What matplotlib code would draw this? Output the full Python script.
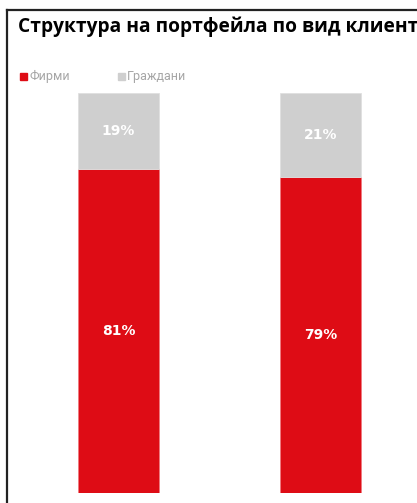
import matplotlib.pyplot as plt
from matplotlib.lines import Line2D
from matplotlib.patches import Rectangle
import numpy as np

# data
categories = ['2022', '2023']
firms = [81, 79]
citizens = [19, 21]
series_names = ['Фирми', 'Граждани']
title = 'Структура на портфейла по вид клиент'

red = '#de0c15'
grey = '#cfcfcf'
plt.rcParams['font.family'] = ['Roboto', 'DejaVu Sans']

W, H = 417, 503
fig = plt.figure(figsize=(W/100, H/100), dpi=100)

# plot area in pixels: bars from y=93 to y=493
ax = fig.add_axes([0, (H-493)/H, 1, 400/H])
step = 202.0
c0 = 118.5
ax.set_xlim(-c0/step, (W-c0)/step)
ax.set_ylim(0, 100)
x = np.arange(len(categories))
bw = 81/step
ax.bar(x, firms, bw, color=red, edgecolor='#f07a80', linewidth=0.6)
ax.bar(x, citizens, bw, bottom=firms, color=grey, edgecolor='#e0e0e0', linewidth=0.6)
for i in range(len(x)):
    ax.text(x[i], firms[i]/2, f'{firms[i]}%', ha='center', va='center',
            color='white', fontsize=10, fontweight='bold', family=['DejaVu Sans'])
    ax.text(x[i], firms[i] + citizens[i]/2, f'{citizens[i]}%', ha='center', va='center',
            color='white', fontsize=10, fontweight='bold', family=['DejaVu Sans'])
ax.axis('off')

# frame (cropped on right and bottom)
fig.add_artist(Line2D([6.5/W, 6.5/W], [0, 1-9.5/H], color='#222222', lw=1.6))
fig.add_artist(Line2D([6.5/W, 1], [1-9.5/H, 1-9.5/H], color='#222222', lw=1.6))

t = fig.text(18/W, 1-27/H, title, ha='left', va='center', fontsize=13,
             fontweight='bold', color='black', family=['Open Sans', 'DejaVu Sans'])
# scale title so it spans the visible width like the reference
r = fig.canvas.get_renderer()
w = t.get_window_extent(r).width
t.set_fontsize(13 * 396 / w)

# legend
for px, name, col in [(20, series_names[0], red), (118, series_names[1], grey)]:
    fig.add_artist(Rectangle((px/W, 1-80/H), 7/W, 7/H, color=col))
    fig.text((px+9)/W, 1-76.5/H, name, ha='left', va='center', fontsize=9, color='#a6a6a6')

fig.savefig('out.png', dpi=100)
